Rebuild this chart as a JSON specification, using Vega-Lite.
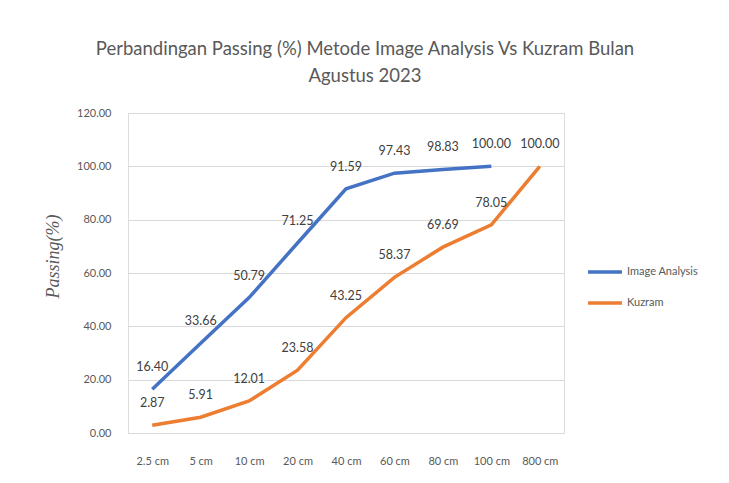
{
  "$schema": "https://vega.github.io/schema/vega-lite/v6.json",
  "width": 436,
  "height": 320,
  "autosize": {"type": "none"},
  "padding": {"left": 128, "top": 113, "right": 165, "bottom": 50},
  "background": "white",
  "title": {
    "text": ["Perbandingan Passing (%) Metode Image Analysis Vs Kuzram Bulan", "Agustus 2023"],
    "anchor": "middle",
    "frame": "group",
    "dx": 19,
    "fontSize": 18.5,
    "font": "Lato",
    "fontWeight": "normal",
    "color": "#595959",
    "lineHeight": 27,
    "offset": 22
  },
  "data": {
    "values": [
      {"size": "2.5 cm", "series": "Image Analysis", "passing": 16.40},
      {"size": "5 cm", "series": "Image Analysis", "passing": 33.66},
      {"size": "10 cm", "series": "Image Analysis", "passing": 50.79},
      {"size": "20 cm", "series": "Image Analysis", "passing": 71.25},
      {"size": "40 cm", "series": "Image Analysis", "passing": 91.59},
      {"size": "60 cm", "series": "Image Analysis", "passing": 97.43},
      {"size": "80 cm", "series": "Image Analysis", "passing": 98.83},
      {"size": "100 cm", "series": "Image Analysis", "passing": 100.00},
      {"size": "2.5 cm", "series": "Kuzram", "passing": 2.87},
      {"size": "5 cm", "series": "Kuzram", "passing": 5.91},
      {"size": "10 cm", "series": "Kuzram", "passing": 12.01},
      {"size": "20 cm", "series": "Kuzram", "passing": 23.58},
      {"size": "40 cm", "series": "Kuzram", "passing": 43.25},
      {"size": "60 cm", "series": "Kuzram", "passing": 58.37},
      {"size": "80 cm", "series": "Kuzram", "passing": 69.69},
      {"size": "100 cm", "series": "Kuzram", "passing": 78.05},
      {"size": "800 cm", "series": "Kuzram", "passing": 100.00}
    ]
  },
  "encoding": {
    "x": {
      "field": "size",
      "type": "ordinal",
      "sort": ["2.5 cm", "5 cm", "10 cm", "20 cm", "40 cm", "60 cm", "80 cm", "100 cm", "800 cm"],
      "axis": {
        "title": null,
        "labelAngle": 0,
        "domain": false,
        "ticks": false,
        "labelPadding": 22,
        "labelFont": "Lato",
        "labelFontSize": 11,
        "labelColor": "#595959"
      }
    },
    "y": {
      "field": "passing",
      "type": "quantitative",
      "scale": {"domain": [0, 120]},
      "axis": {
        "values": [0, 20, 40, 60, 80, 100, 120],
        "format": ".2f",
        "title": "Passing(%)",
        "titleFont": "Liberation Serif",
        "titleFontStyle": "italic",
        "titleFontWeight": "normal",
        "titleFontSize": 18,
        "titleColor": "#595959",
        "titleX": -66,
        "titleY": 143,
        "domain": false,
        "ticks": false,
        "labelPadding": 17,
        "labelFont": "Lato",
        "labelFontSize": 11,
        "labelColor": "#595959",
        "gridColor": "#d9d9d9",
        "gridWidth": 1
      }
    },
    "color": {
      "field": "series",
      "type": "nominal",
      "scale": {"domain": ["Image Analysis", "Kuzram"], "range": ["#4472C4", "#ED7D31"]},
      "legend": {
        "title": null,
        "orient": "none",
        "legendX": 458,
        "legendY": 140,
        "symbolType": "stroke",
        "symbolStrokeWidth": 3.5,
        "symbolSize": 1150,
        "labelFont": "Lato",
        "labelFontSize": 11,
        "labelColor": "#595959",
        "labelOffset": 3,
        "rowPadding": 5
      }
    }
  },
  "layer": [
    {"mark": {"type": "line", "strokeWidth": 3.5}},
    {
      "mark": {"type": "text", "dy": -22, "fontSize": 12.5, "font": "Lato", "baseline": "middle"},
      "encoding": {
        "text": {"field": "passing", "type": "quantitative", "format": ".2f"},
        "color": {"value": "#404040"}
      }
    }
  ]
}
